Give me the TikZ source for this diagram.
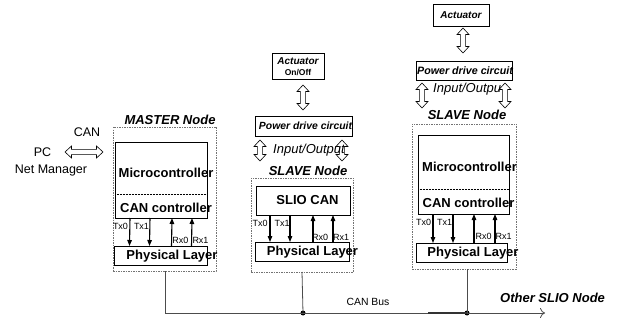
\documentclass[tikz,border=0pt]{standalone}
\usepackage{fontspec}
\setmainfont{Liberation Sans}
\usetikzlibrary{arrows.meta}
\begin{document}
\begin{tikzpicture}[x=1pt,y=-1pt,
  box/.style={draw,line width=0.7pt,inner sep=0pt,outer sep=0pt},
  dbox/.style={draw=black!55,dashed,dash pattern=on 1.5pt off 1pt,line width=0.5pt,inner sep=0pt,outer sep=0pt},
  bigb/.style={font=\fontsize{13}{15}\selectfont\bfseries,inner sep=0pt},
  bigbi/.style={font=\fontsize{13}{15}\selectfont\bfseries\itshape,inner sep=0pt},
  midbi/.style={font=\fontsize{10.4}{12}\selectfont\bfseries\itshape,inner sep=0pt},
  ital/.style={font=\fontsize{13}{15}\selectfont\itshape,inner sep=0pt},
  reg/.style={font=\fontsize{12.5}{15}\selectfont,inner sep=0pt},
  small/.style={font=\fontsize{9}{10}\selectfont,inner sep=0pt},
  sig/.style={line width=1.1pt,-{Triangle[length=6pt,width=4.5pt]}},
  darrow/.pic={\draw[fill=white,line width=0.6pt] (0,0) -- (6.5,6) -- (6.5,2.6) -- (#1-6.5,2.6) -- (#1-6.5,6) -- (#1,0)
      -- (#1-6.5,-6) -- (#1-6.5,-2.6) -- (6.5,-2.6) -- (6.5,-6) -- cycle;},
  bus/.style={draw=black!70,line width=0.8pt},
  dot/.style={circle,fill=black,inner sep=0pt,minimum size=5pt}]
\useasboundingbox (0,0) rectangle (618,323);

% ---------- PC ----------
\node[reg] (can) at (87,132) {CAN};
\node[reg] (pc) at (42.5,152) {PC};
\node[reg] (nm) at (51,170) {Net Manager};
\coordinate (pcl) at (65,152);
\pic at (pcl) {darrow=38};

% ---------- MASTER ----------
\node[bigbi] (mlab) at (170,120) {MASTER Node};
\node[dbox,minimum width=103pt,minimum height=144pt] (mdash) at (164.5,199) {};
\node[box,minimum width=92pt,minimum height=76pt] (mc) at (161,180) {};
\draw[densely dotted,line width=0.5pt] ([yshift=24pt]mc.south west) -- ([yshift=24pt]mc.south east);
\node[bigb] at (166,173) {Microcontroller};
\node[bigb] at (166,208) {CAN controller};
\node[box,minimum width=93pt,minimum height=19pt] (mpl) at (160.5,255.5) {};
\node[bigb] at (172,256) {Physical Layer};
\draw[sig] ([xshift=15pt]mc.south west) -- ([xshift=15.5pt]mpl.north west);
\draw[sig] ([xshift=35pt]mc.south west) -- ([xshift=35.5pt]mpl.north west);
\draw[sig] ([xshift=57.5pt]mpl.north west) -- ([xshift=57pt]mc.south west);
\draw[sig] ([xshift=77.5pt]mpl.north west) -- ([xshift=77pt]mc.south west);
\node[small] at (120.5,226) {Tx0};
\node[small] at (141.5,226) {Tx1};
\node[small] at (180.5,240) {Rx0};
\node[small] at (200.5,240) {Rx1};

% ---------- SLAVE 1 ----------
\node[box,minimum width=52pt,minimum height=26pt] (act1) at (298,66) {};
\node[font=\fontsize{10}{12}\selectfont\bfseries\itshape,inner sep=0pt] at (298,61) {Actuator};
\node[font=\fontsize{8.5}{10}\selectfont\bfseries,inner sep=0pt] at (298,73) {On/Off};
\node[box,minimum width=97pt,minimum height=20pt] (pd1) at (303.5,126) {};
\node[midbi] at (305.5,126) {Power drive circuit};
\coordinate (a1t) at (303,85);
\pic[rotate=-90] at (a1t) {darrow=25};
\coordinate (i1lt) at (260,140);
\coordinate (i1rt) at (342,140);
\pic[rotate=-90] at (i1lt) {darrow=21};
\pic[rotate=-90] at (i1rt) {darrow=21};
\node[ital] at (309,150) {Input/Output};
\node[bigbi] at (308,171) {SLAVE Node};
\node[dbox,minimum width=102pt,minimum height=94pt] (s1dash) at (302,225) {};
\node[box,minimum width=94pt,minimum height=29pt] (slio) at (303,200.5) {};
\node[bigb] at (307.5,200) {SLIO CAN};
\node[box,minimum width=94pt,minimum height=19pt] (s1pl) at (302,251.5) {};
\node[bigb] at (312.5,252) {Physical Layer};
\draw[sig] ([xshift=14pt]slio.south west) -- ([xshift=15pt]s1pl.north west);
\draw[sig] ([xshift=34pt]slio.south west) -- ([xshift=35pt]s1pl.north west);
\draw[sig] ([xshift=58pt]s1pl.north west) -- ([xshift=57pt]slio.south west);
\draw[sig] ([xshift=78pt]s1pl.north west) -- ([xshift=77pt]slio.south west);
\node[small] at (260,223) {Tx0};
\node[small] at (282,223) {Tx1};
\node[small] at (320,237) {Rx0};
\node[small] at (341,237) {Rx1};

% ---------- SLAVE 2 ----------
\node[box,minimum width=56pt,minimum height=22pt] (act2) at (461,15) {};
\node[font=\fontsize{10}{12}\selectfont\bfseries\itshape,inner sep=0pt] at (461,15) {Actuator};
\node[box,minimum width=96pt,minimum height=19pt] (pd2) at (464,70.5) {};
\node[font=\fontsize{10.7}{12}\selectfont\bfseries\itshape,inner sep=0pt] at (465,71) {Power drive circuit};
\coordinate (a2t) at (463,28);
\pic[rotate=-90] at (a2t) {darrow=25};
\coordinate (i2lt) at (422,83);
\coordinate (i2rt) at (505,83);
\pic[rotate=-90] at (i2lt) {darrow=25};
\pic[rotate=-90] at (i2rt) {darrow=25};
\node[ital,anchor=west] at (433,89) {Input/Outpu};
\node[bigbi] at (467,115) {SLAVE Node};
\node[dbox,minimum width=104pt,minimum height=145pt] (s2dash) at (464,196.5) {};
\node[box,minimum width=91pt,minimum height=79pt] (mc2) at (463.5,174.5) {};
\draw[densely dotted,line width=0.5pt] ([yshift=25pt]mc2.south west) -- ([yshift=25pt]mc2.south east);
\node[bigb] at (469.5,167) {Microcontroller};
\node[bigb] at (468.5,203) {CAN controller};
\node[box,minimum width=91pt,minimum height=19pt] (s2pl) at (461.5,252.5) {};
\node[bigb] at (473,253) {Physical Layer};
\draw[sig] ([xshift=15pt]mc2.south west) -- ([xshift=17pt]s2pl.north west);
\draw[sig] ([xshift=35pt]mc2.south west) -- ([xshift=37pt]s2pl.north west);
\draw[sig] ([xshift=58pt]s2pl.north west) -- ([xshift=56pt]mc2.south west);
\draw[sig] ([xshift=79pt]s2pl.north west) -- ([xshift=77pt]mc2.south west);
\node[small] at (423.5,222) {Tx0};
\node[small] at (444.5,222) {Tx1};
\node[small] at (483.5,236) {Rx0};
\node[small] at (503.5,236) {Rx1};

% ---------- BUS ----------
\coordinate (b0) at (165,313);
\coordinate (bend) at (545,313);
\node[dot] (j1) at (303,313) {};
\node[dot] (j2) at (467,313) {};
\coordinate (bd) at (428,313);
\draw[bus] (mdash.south -| b0) -- (b0) -- (j1.center);
\draw[bus] (s1dash.south) -- (j1.center);
\draw[bus] (s2dash.south -| j2) -- (j2.center);
\draw[bus,-{To[length=5pt,width=10pt]}] (j1.center) -- (bend);
\draw[line width=1.5pt,black!80] (bd) -- (j2.center);
\node[font=\fontsize{10.4}{12}\selectfont,inner sep=0pt] (cb) at (368,302) {CAN Bus};
\node[bigbi,anchor=west] (other) at (500,298) {Other SLIO Node};
\end{tikzpicture}
\end{document}
